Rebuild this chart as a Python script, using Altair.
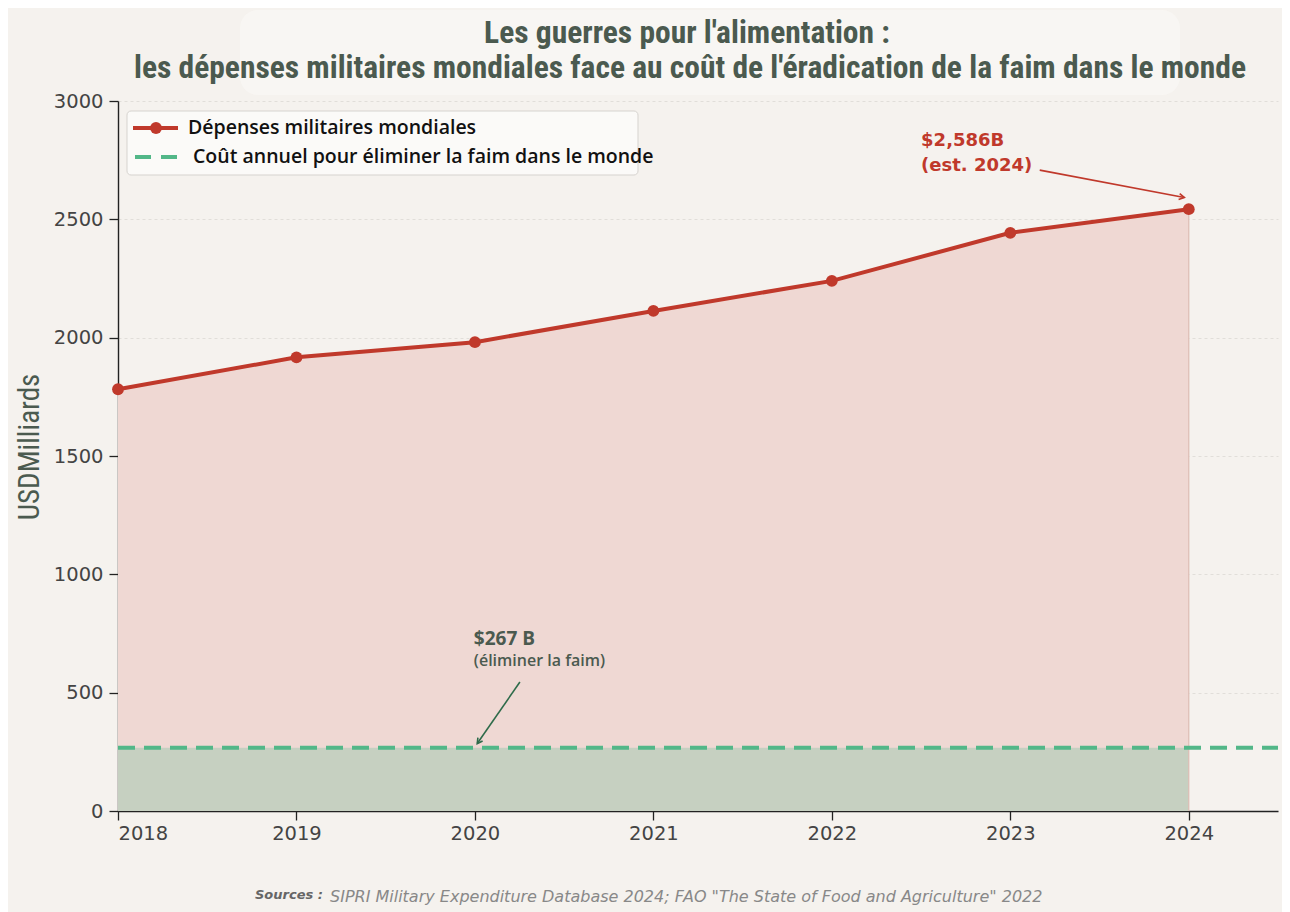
import math
import altair as alt
import pandas as pd

# ---------------- data ----------------
years = [2018, 2019, 2020, 2021, 2022, 2023, 2024]
military = [1782, 1917, 1981, 2113, 2240, 2443, 2543]
hunger_cost = 267
y_ticks = [0, 500, 1000, 1500, 2000, 2500, 3000]
x_domain = [2018, 2024.5]

title_lines = [
    "Les guerres pour l'alimentation :",
    "les dépenses militaires mondiales face au coût de l'éradication de la faim dans le monde",
]
legend_labels = ["Dépenses militaires mondiales",
                 "Coût annuel pour éliminer la faim dans le monde"]
y_title = "USDMilliards"
mil_note = ["$2,586B", "(est. 2024)"]
hunger_note = ["$267 B", "(éliminer la faim)"]
sources_lead = "Sources :"
sources_text = 'SIPRI Military Expenditure Database 2024; FAO "The State of Food and Agriculture" 2022'

# ---------------- style ----------------
W, H = 1160, 710
BG = "#f5f2ee"
RED = "#c0392b"
GREEN = "#52b788"
RED_FILL = "#efd8d3"
GREEN_FILL = "#c6d0c1"
DARK = "#4b5a4f"
COND = "Roboto Condensed, Liberation Sans Narrow, Roboto, sans-serif"
SANS = "Open Sans, Noto Sans, sans-serif"
DEJAVU = "DejaVu Sans"

df = pd.DataFrame({"year": years, "military": military,
                   "hunger": [hunger_cost] * len(years)})
hdf = pd.DataFrame({"hunger": [hunger_cost]})
dummy = pd.DataFrame({"a": [0]})

xscale = alt.Scale(domain=x_domain, nice=False, zero=False)
yscale = alt.Scale(domain=[0, 3000], nice=False)

x_axis = alt.Axis(values=years, format="d", grid=False,
                  labelFont=DEJAVU, labelFontSize=19.5, labelColor="#444",
                  labelPadding=4, tickSize=9, tickColor="#222",
                  domainColor="#222", domainWidth=1.4, tickWidth=1.3)
y_axis = alt.Axis(values=y_ticks, format="d", grid=True, gridDash=[3, 3],
                  gridColor="#dcd8d3", gridWidth=0.8,
                  labelFont=DEJAVU, labelFontSize=19.5, labelColor="#444",
                  labelPadding=6, tickSize=9, tickColor="#222",
                  domainColor="#222", domainWidth=1.4, tickWidth=1.3)


def X(field):
    return alt.X(field, scale=xscale, title=None, axis=x_axis)


def Y(field):
    return alt.Y(field, scale=yscale, title=None, axis=y_axis)


base = alt.Chart(df)

red_area = base.mark_area(color=RED_FILL, opacity=1).encode(x=X("year:Q"), y=Y("military:Q"))
green_area = base.mark_area(color=GREEN_FILL, opacity=1).encode(x=X("year:Q"), y=Y("hunger:Q"))
edge = alt.Chart(df[df["year"] == years[-1]]).mark_rule(color="#dcbcb4", strokeWidth=1.2).encode(
    x=X("year:Q"), y=Y("military:Q"), y2=alt.datum(0))
hunger_line = alt.Chart(hdf).mark_rule(color=GREEN, strokeWidth=4, strokeDash=[17, 9]).encode(
    x=alt.value(0), x2=alt.value(W), y=Y("hunger:Q"))
mil_line = base.mark_line(color=RED, strokeWidth=4).encode(x=X("year:Q"), y=Y("military:Q"))
mil_pts = base.mark_circle(color=RED, size=140, opacity=1).encode(x=X("year:Q"), y=Y("military:Q"))

# ---------------- annotations (data coordinates) ----------------
ann_red = pd.DataFrame({"x": [2022.5, 2022.5], "y": [2831, 2725], "t": mil_note})
red_text = alt.Chart(ann_red).mark_text(align="left", baseline="middle", font=DEJAVU,
                                        fontWeight="bold", fontSize=18, color=RED).encode(
    x=X("x:Q"), y=Y("y:Q"), text="t:N")

red_arrow_df = pd.DataFrame({"x": [2023.165], "y": [2708], "x2": [2023.975], "y2": [2592]})
red_arrow = alt.Chart(red_arrow_df).mark_rule(color=RED, strokeWidth=1.6).encode(
    x=X("x:Q"), y=Y("y:Q"), x2="x2:Q", y2="y2:Q")
ang_r = math.degrees(math.atan2(28, 145))
red_head = alt.Chart(red_arrow_df).mark_point(
    shape="M -1 -0.55 L 0 0 L -1 0.55", filled=False, color=RED, strokeWidth=1.6,
    size=110, angle=ang_r, opacity=1).encode(x=X("x2:Q"), y=Y("y2:Q"))

ann_green = pd.DataFrame({"x": [2019.994, 2019.994], "y": [726, 634], "t": hunger_note})
green_t1 = alt.Chart(ann_green.iloc[[0]]).mark_text(align="left", baseline="middle", font=SANS,
                                                   fontWeight="bold", fontSize=19, color=DARK).encode(
    x=X("x:Q"), y=Y("y:Q"), text="t:N")
green_t2 = alt.Chart(ann_green.iloc[[1]]).mark_text(align="left", baseline="middle", font=SANS,
                                                   fontWeight=600, fontSize=16, color=DARK).encode(
    x=X("x:Q"), y=Y("y:Q"), text="t:N")
green_arrow_df = pd.DataFrame({"x": [2020.252], "y": [545], "x2": [2020.013], "y2": [285]})
green_arrow = alt.Chart(green_arrow_df).mark_rule(color="#2e6b4a", strokeWidth=1.6).encode(
    x=X("x:Q"), y=Y("y:Q"), x2="x2:Q", y2="y2:Q")
ang_g = math.degrees(math.atan2(61, -43))
green_head = alt.Chart(green_arrow_df).mark_point(
    shape="M -1 -0.55 L 0 0 L -1 0.55", filled=False, color="#2e6b4a", strokeWidth=1.6,
    size=110, angle=ang_g, opacity=1).encode(x=X("x2:Q"), y=Y("y2:Q"))

# ---------------- decorations (pixel positions) ----------------
d = alt.Chart(dummy)
title_band = d.mark_rect(fill="#f8f6f3", cornerRadius=18, opacity=0.9).encode(
    x=alt.value(122), x2=alt.value(1062), y=alt.value(-91), y2=alt.value(-6))
title1 = d.mark_text(align="center", baseline="middle", font=COND, fontWeight="bold",
                     fontSize=31.5, color=DARK).encode(
    x=alt.value(569), y=alt.value(-67), text=alt.value(title_lines[0]))
title2 = d.mark_text(align="center", baseline="middle", font=COND, fontWeight="bold",
                     fontSize=31.5, color=DARK).encode(
    x=alt.value(572), y=alt.value(-32), text=alt.value(title_lines[1]))
ytitle = d.mark_text(align="center", baseline="middle", font=COND, fontWeight="normal",
                     fontSize=29, color=DARK, angle=270).encode(
    x=alt.value(-88), y=alt.value(346), text=alt.value(y_title))

leg_box = d.mark_rect(fill="#fbfaf8", stroke="#d6d3cf", strokeWidth=1, cornerRadius=4).encode(
    x=alt.value(9), x2=alt.value(520), y=alt.value(10), y2=alt.value(74))
leg_red = d.mark_rule(color=RED, strokeWidth=4).encode(
    x=alt.value(15), x2=alt.value(60), y=alt.value(27))
leg_dot = d.mark_circle(color=RED, size=140, opacity=1).encode(
    x=alt.value(38), y=alt.value(27))
leg_green = d.mark_rule(color=GREEN, strokeWidth=4, strokeDash=[16, 10]).encode(
    x=alt.value(17), x2=alt.value(60), y=alt.value(56))
leg_t1 = d.mark_text(align="left", baseline="middle", font=SANS, fontWeight=600,
                     fontSize=19.5, color="#111").encode(
    x=alt.value(70), y=alt.value(27), text=alt.value(legend_labels[0]))
leg_t2 = d.mark_text(align="left", baseline="middle", font=SANS, fontWeight=600,
                     fontSize=19.5, color="#111").encode(
    x=alt.value(75), y=alt.value(56), text=alt.value(legend_labels[1]))

src1 = d.mark_text(align="left", baseline="middle", font=DEJAVU, fontWeight="bold",
                   fontStyle="italic", fontSize=13, color="#666").encode(
    x=alt.value(137), y=alt.value(794), text=alt.value(sources_lead))
src2 = d.mark_text(align="left", baseline="middle", font=DEJAVU, fontStyle="italic",
                   fontSize=16, color="#888").encode(
    x=alt.value(212), y=alt.value(796), text=alt.value(sources_text))

chart = alt.layer(
    red_area, green_area, edge, hunger_line, mil_line, mil_pts,
    red_text, red_arrow, red_head, green_t1, green_t2, green_arrow, green_head,
    title_band, title1, title2, ytitle,
    leg_box, leg_red, leg_dot, leg_green, leg_t1, leg_t2, src1, src2,
).properties(
    width=W, height=H,
    autosize=alt.AutoSizeParams(type="none"),
    padding={"left": 110, "top": 93, "right": 4, "bottom": 101},
    background=BG,
).configure_view(stroke=None)

chart.save("out.html", embed_options={"renderer": "svg", "actions": False})
